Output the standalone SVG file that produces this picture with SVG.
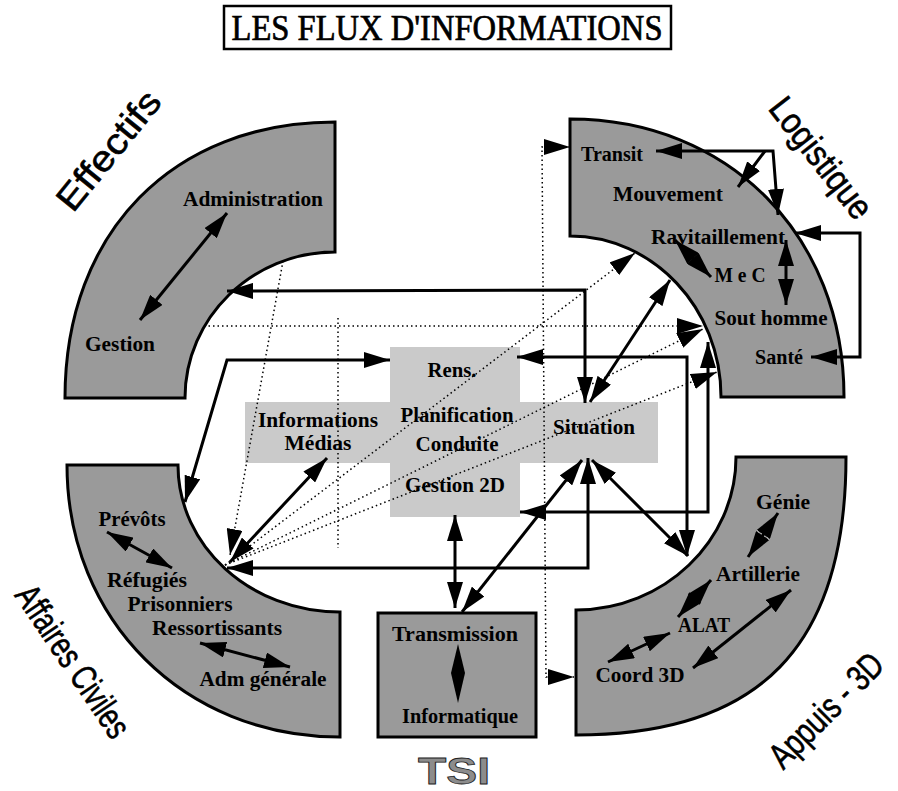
<svg xmlns="http://www.w3.org/2000/svg" width="898" height="791" viewBox="0 0 898 791">
  <defs>
    <marker id="ah" viewBox="0 0 26 16" refX="26" refY="8" markerWidth="26" markerHeight="16" markerUnits="userSpaceOnUse" orient="auto-start-reverse">
      <path d="M0,0 L26,8 L0,16 z" fill="#000"/>
    </marker>
    <style>
      .ring { fill: #9a9a9a; stroke: #000; stroke-width: 3; stroke-linejoin: miter; }
      .box { fill: #cacaca; }
      .lbl { font-family: "Liberation Serif", "Times New Roman", serif; font-weight: bold; font-size: 20px; text-anchor: middle; fill: #000; }
      .sect { font-family: "Liberation Sans", Arial, sans-serif; font-size: 36px; text-anchor: middle; fill: #000; stroke: #000; stroke-width: 0.6; }
      .ax { fill: none; stroke: #000; stroke-width: 3; marker-start: url(#ah); marker-end: url(#ah); }
      .dt { fill: none; stroke: #000; stroke-width: 1.5; stroke-dasharray: 1.5 3; }
      .dta { marker-end: url(#ah); }
      .dtb { marker-start: url(#ah); marker-end: url(#ah); }
    </style>
  </defs>

  <rect width="898" height="791" fill="#fff"/>

  <!-- title -->
  <g id="title">
    <rect x="224" y="6" width="447" height="43" fill="#fff" stroke="#000" stroke-width="2.5"/>
    <text x="447" y="40" font-family="'Liberation Serif', 'Times New Roman', serif" font-size="35" text-anchor="middle" stroke="#000" stroke-width="0.7" textLength="431" lengthAdjust="spacingAndGlyphs">LES FLUX D'INFORMATIONS</text>
  </g>

  <!-- Effectifs quadrant -->
  <g id="effectifs">
    <path class="ring" d="M335,122 L335,252 C252,252 185,318 185,398 L65,398 C65,232 173,122 335,122 Z"/>
    <text class="lbl" x="253" y="206" textLength="140" lengthAdjust="spacingAndGlyphs">Administration</text>
    <text class="lbl" x="120" y="351" textLength="70" lengthAdjust="spacingAndGlyphs">Gestion</text>
    <line class="ax" x1="140" y1="320" x2="227" y2="213"/>
    <text class="sect" transform="translate(108,150) rotate(-51)" y="13" font-size="38" textLength="143" lengthAdjust="spacingAndGlyphs">Effectifs</text>
  </g>

  <!-- Logistique quadrant -->
  <g id="logistique">
    <path class="ring" d="M570,119 C729,119 844,236 844,397 L721,397 C721,308 653,236 570,236 Z"/>
    <text class="lbl" x="612" y="161" textLength="62" lengthAdjust="spacingAndGlyphs">Transit</text>
    <text class="lbl" x="668" y="201" textLength="110" lengthAdjust="spacingAndGlyphs">Mouvement</text>
    <text class="lbl" x="718" y="244" textLength="134" lengthAdjust="spacingAndGlyphs">Ravitaillement</text>
    <text class="lbl" x="740" y="282" textLength="51" lengthAdjust="spacingAndGlyphs">M e C</text>
    <text class="lbl" x="771" y="325" textLength="113" lengthAdjust="spacingAndGlyphs">Sout homme</text>
    <text class="lbl" x="779" y="364" textLength="48" lengthAdjust="spacingAndGlyphs">Santé</text>
    <path class="ax" d="M656,151 L773,151 L778,215"/>
    <path class="ax" d="M765,151 L738,187" style="marker-start:none"/>
    <path class="ax" d="M795,233 L860,233 L860,357 L811,357"/>
    <line class="ax" x1="675" y1="240" x2="711" y2="277"/>
    <line class="ax" x1="786" y1="240" x2="786" y2="305"/>
    <text class="sect" transform="translate(821,158) rotate(52)" y="12" font-size="34" textLength="144" lengthAdjust="spacingAndGlyphs">Logistique</text>
  </g>

  <!-- Appuis 3D quadrant -->
  <g id="appuis">
    <path class="ring" d="M736,457 L846,457 C846,646 760,735 576,735 L576,610 C664,610 736,541 736,457 Z"/>
    <text class="lbl" x="783" y="509" textLength="54" lengthAdjust="spacingAndGlyphs">Génie</text>
    <text class="lbl" x="758" y="581" textLength="84" lengthAdjust="spacingAndGlyphs">Artillerie</text>
    <text class="lbl" x="704" y="632" textLength="52" lengthAdjust="spacingAndGlyphs">ALAT</text>
    <text class="lbl" x="640" y="682" textLength="89" lengthAdjust="spacingAndGlyphs">Coord 3D</text>
    <line class="ax" x1="778" y1="513" x2="748" y2="557"/>
    <line class="ax" x1="711" y1="580" x2="678" y2="617"/>
    <line class="ax" x1="670" y1="633" x2="608" y2="662"/>
    <line class="ax" x1="693" y1="668" x2="791" y2="590"/>
    <text class="sect" transform="translate(827,711) rotate(-45)" y="11" font-size="32" textLength="146" lengthAdjust="spacingAndGlyphs">Appuis - 3D</text>
  </g>

  <!-- Affaires civiles quadrant -->
  <g id="affaires-civiles">
    <path class="ring" d="M67,465 L178,465 C178,546 250,612 340,612 L340,737 C184,737 67,620 67,465 Z"/>
    <text class="lbl" x="132" y="526" textLength="67" lengthAdjust="spacingAndGlyphs">Prévôts</text>
    <text class="lbl" x="147" y="587" textLength="80" lengthAdjust="spacingAndGlyphs">Réfugiés</text>
    <text class="lbl" x="180" y="611" textLength="105" lengthAdjust="spacingAndGlyphs">Prisonniers</text>
    <text class="lbl" x="217" y="635" textLength="130" lengthAdjust="spacingAndGlyphs">Ressortissants</text>
    <text class="lbl" x="263" y="686" textLength="127" lengthAdjust="spacingAndGlyphs">Adm générale</text>
    <line class="ax" x1="107" y1="532" x2="172" y2="568"/>
    <line class="ax" x1="200" y1="643" x2="290" y2="667"/>
    <text class="sect" transform="translate(72,662) rotate(56)" y="11" font-size="31" textLength="176" lengthAdjust="spacingAndGlyphs">Affaires Civiles</text>
  </g>

  <!-- TSI block -->
  <g id="tsi">
    <rect x="378" y="613" width="158" height="124" fill="#9a9a9a" stroke="#000" stroke-width="3"/>
    <text class="lbl" x="455" y="641" textLength="126" lengthAdjust="spacingAndGlyphs">Transmission</text>
    <text class="lbl" x="460" y="723" textLength="116" lengthAdjust="spacingAndGlyphs">Informatique</text>
    <polygon points="458,644 465,673 458,703 451,673" fill="#000"/>
    <text x="454" y="784" font-family="'Liberation Sans', Arial, sans-serif" font-weight="bold" font-size="36" text-anchor="middle" fill="#8c8c8c" stroke="#222" stroke-width="0.8" textLength="72" lengthAdjust="spacingAndGlyphs">TSI</text>
  </g>

  <!-- central command post -->
  <g id="centre">
    <rect class="box" x="390" y="347" width="130" height="170"/>
    <rect class="box" x="245" y="402" width="413" height="61"/>
  </g>

  <!-- connectors -->
  <g id="connectors">
    <!-- dotted flows -->
    <path class="dt dtb" d="M570,147 L542,147 L546,677 L574,677"/>
    <path class="dt dta" d="M204,326 L703,326"/>
    <path class="dt dta" d="M225,565 L635,253"/>
    <path class="dt dta" d="M225,565 L703,329"/>
    <path class="dt dta" d="M225,565 L717,372"/>
    <path class="dt dta" d="M283,261 L230,555"/>
    <path class="dt" d="M338,318 L338,548"/>
    <!-- solid flows -->
    <path class="ax" d="M227,291 L585,290 L585,403"/>
    <path class="ax" d="M185,502 L227,360 L390,360"/>
    <path class="ax" d="M517,357 L687,357 L687,556"/>
    <path class="ax" d="M708,342 L708,512 L520,512"/>
    <path class="ax" d="M588,458 L588,568 L227,568"/>
    <line class="ax" x1="590" y1="402" x2="670" y2="280"/>
    <line class="ax" x1="592" y1="460" x2="688" y2="556"/>
    <line class="ax" x1="582" y1="460" x2="462" y2="612"/>
    <line class="ax" x1="455" y1="515" x2="455" y2="608"/>
    <line class="ax" x1="327" y1="458" x2="230" y2="562"/>
  </g>

  <!-- centre labels -->
  <g id="centre-labels">
    <text class="lbl" x="452" y="377" textLength="49" lengthAdjust="spacingAndGlyphs">Rens.</text>
    <text class="lbl" x="457" y="422" textLength="113" lengthAdjust="spacingAndGlyphs">Planification</text>
    <text class="lbl" x="457" y="451" textLength="83" lengthAdjust="spacingAndGlyphs">Conduite</text>
    <text class="lbl" x="318" y="427" textLength="120" lengthAdjust="spacingAndGlyphs">Informations</text>
    <text class="lbl" x="318" y="450" textLength="67" lengthAdjust="spacingAndGlyphs">Médias</text>
    <text class="lbl" x="594" y="434" textLength="82" lengthAdjust="spacingAndGlyphs">Situation</text>
    <text class="lbl" x="455" y="492" textLength="100" lengthAdjust="spacingAndGlyphs">Gestion 2D</text>
  </g>
</svg>
